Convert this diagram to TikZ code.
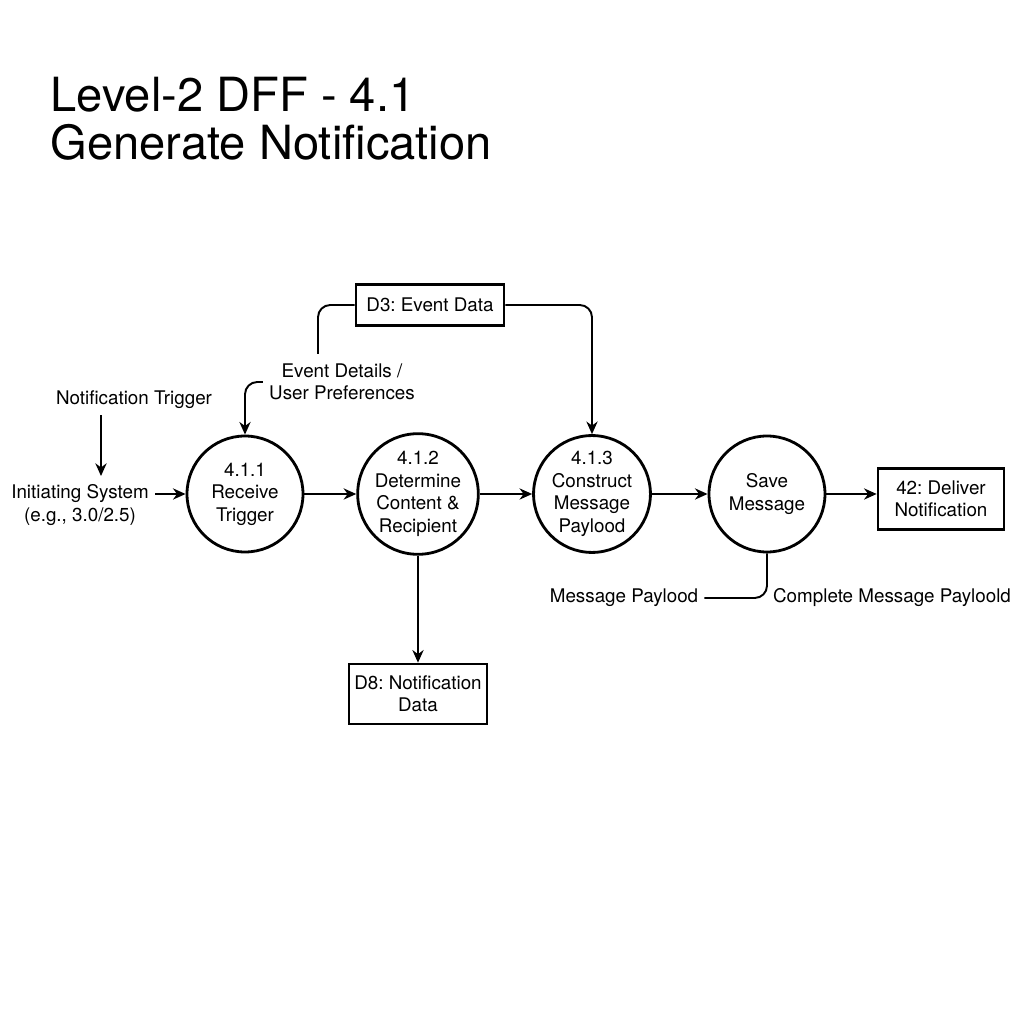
\documentclass[tikz,border=0pt]{standalone}
\usepackage{fontspec}
\setmainfont{TeX Gyre Heros}
\frenchspacing
\usetikzlibrary{arrows.meta}
\tikzset{
	proc/.style={draw, circle, line width=0.8pt, minimum size=1.16cm, inner sep=0pt, align=center, font=\fontsize{5.35}{6.4}\selectfont},
	store/.style={draw, rectangle, line width=0.75pt, inner sep=0pt, align=center, font=\fontsize{5.35}{6.4}\selectfont},
	lbl/.style={inner sep=1.6pt, align=center, font=\fontsize{5.35}{6.4}\selectfont},
	flow/.style={line width=0.55pt, -{Stealth[length=3.6pt,width=3.2pt]}},
	line/.style={line width=0.55pt, rounded corners=3.5pt}
}

\begin{document}
\begin{tikzpicture}
			%%%%% START %%%%%
			\fill[white] (0, 0) rectangle (10.24, 10.24);
			\useasboundingbox (0, 0) rectangle (10.24, 10.24);
			
			\node[anchor=base west, inner sep=0pt, font=\fontsize{13.4}{15}\selectfont] (title1) at (0.50, 9.12) {Level-2 DFF - 4.1};
			\node[anchor=base west, inner sep=0pt, font=\fontsize{13.4}{15}\selectfont] (title2) at (0.50, 8.64) {Generate Notification};
			
			\node[proc] (p411) at (2.45, 5.30) {4.1.1\\Receive\\Trigger};
			\node[proc] (p412) at (4.18, 5.30) {4.1.2\\Determine\\Content \&\\Recipient};
			\node[proc] (p413) at (5.92, 5.30) {4.1.3\\Construct\\Message\\Paylood};
			\node[proc] (psave) at (7.67, 5.30) {Save\\Message};
			
			\node[store, minimum width=1.26cm, minimum height=0.61cm] (deliver) at (9.41, 5.25) {42: Deliver\\Notification};
			\node[store, minimum width=1.48cm, minimum height=0.41cm] (d3) at (4.30, 7.19) {D3: Event Data};
			\node[store, minimum width=1.38cm, minimum height=0.60cm] (d8) at (4.18, 3.30) {D8: Notification\\Data};
			
			\node[lbl] (trig) at (1.34, 6.24) {Notification Trigger};
			\node[lbl] (init) at (0.80, 5.19) {Initiating System\\(e.g., 3.0/2.5)};
			\node[lbl] (evlbl) at (3.42, 6.42) {Event Details /\\User Preferences};
			\node[lbl] (mp) at (6.24, 4.26) {Message Paylood};
			\node[lbl] (cmp) at (8.92, 4.26) {Complete Message Payloold};
			
			\coordinate (trgend) at (1.01, 5.48);
			\coordinate (evtop) at (3.18, 6.70);
			
			% inputs
			\draw[flow] (trig.south -| trgend) -- (trgend);
			\draw[flow] (p411.west -| init.east) -- (p411.west);
			\draw[line] (d3.west) -| (evtop);
			\draw[flow, rounded corners=3.5pt] (evlbl.west) -| (p411.north);
			\draw[flow, rounded corners=3.5pt] (d3.east) -| (p413.north);
			
			% main chain
			\draw[flow] (p411.east) -- (p412.west);
			\draw[flow] (p412.east) -- (p413.west);
			\draw[flow] (p413.east) -- (psave.west);
			\draw[flow] (psave.east) -- (psave.east -| deliver.west);
			
			\draw[flow] (p412.south) -- (d8.north);
			\draw[line] (psave.south) |- (mp.east);
			%%%%% END %%%%%
\end{tikzpicture}
\end{document}
